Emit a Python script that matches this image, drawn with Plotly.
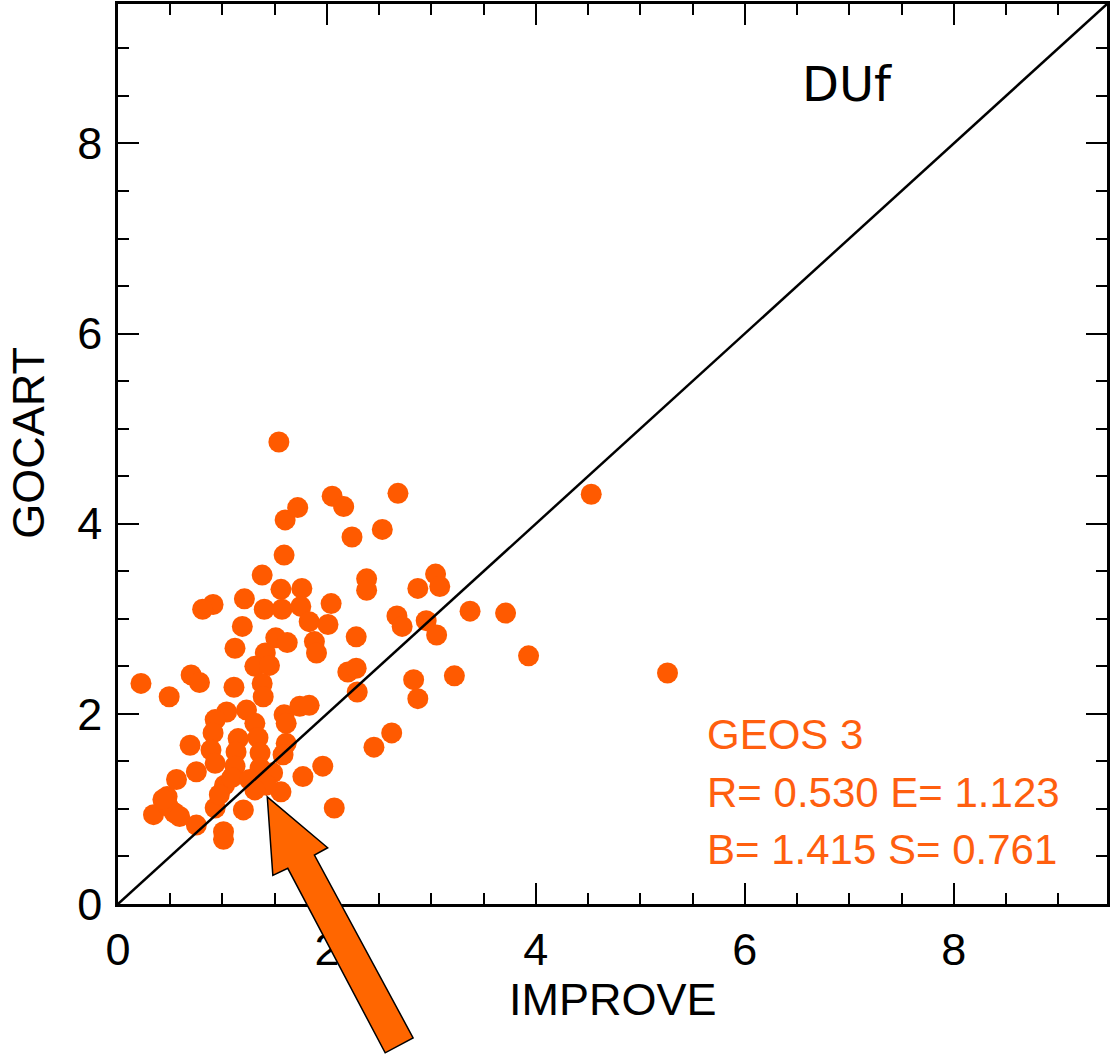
import plotly.graph_objects as go

# ---- data (IMPROVE vs GOCART, DUf) ----
improve = [1.54, 1.60, 1.72, 2.05, 2.16, 2.68, 2.24, 2.53, 1.59, 1.38,
           2.38, 2.38, 1.56, 1.76, 1.21, 0.91, 0.81, 1.40, 1.57, 1.75,
           1.83, 2.01, 2.04, 1.88, 1.90, 1.51, 1.62, 1.19, 1.12, 1.41,
           1.31, 1.45, 2.28, 2.87, 3.04, 3.08, 2.67, 2.72, 2.95, 3.05,
           3.37, 3.71, 4.53, 3.93, 5.26, 3.22, 2.83, 2.87, 2.62, 2.45,
           2.07, 1.96, 0.22, 0.49, 0.70, 0.78, 1.11, 1.38, 1.39, 2.20,
           2.28, 2.29, 1.77, 1.56, 1.20, 1.01, 1.01, 0.93, 0.75, 0.34,
           0.47, 0.54, 0.56, 0.48, 0.59, 0.69, 0.75, 1.02, 1.04, 0.93,
           0.91, 0.89, 0.93, 1.23, 1.31, 1.34, 1.36, 1.36, 1.15, 1.13,
           1.12, 1.09, 0.97, 1.59, 1.74, 1.83, 1.61, 1.58, 1.48, 1.42,
           1.31, 1.61, 1.26, 0.43]
gocart = [4.86, 4.04, 4.17, 4.29, 4.18, 4.32, 3.86, 3.94, 3.67, 3.46,
          3.42, 3.30, 3.31, 3.32, 3.21, 3.15, 3.10, 3.10, 3.10, 3.13,
          2.97, 2.94, 3.16, 2.76, 2.64, 2.80, 2.75, 2.92, 2.69, 2.64,
          2.50, 2.51, 2.81, 3.32, 3.47, 3.34, 3.03, 2.92, 2.98, 2.83,
          3.08, 3.06, 4.31, 2.61, 2.43, 2.40, 2.36, 2.16, 1.80, 1.65,
          1.01, 1.45, 2.32, 2.18, 2.41, 2.33, 2.28, 2.32, 2.18, 2.44,
          2.48, 2.23, 1.34, 1.18, 0.99, 0.76, 0.68, 1.01, 0.83, 0.94,
          1.13, 0.96, 1.31, 1.03, 0.92, 1.67, 1.39, 1.25, 2.02, 1.94,
          1.80, 1.62, 1.48, 2.04, 1.90, 1.75, 1.59, 1.43, 1.74, 1.60,
          1.45, 1.33, 1.15, 1.99, 2.08, 2.09, 1.69, 1.57, 1.38, 1.25,
          1.20, 1.90, 1.31, 1.10]

axis_max = 9.467
one_to_one = [0, axis_max]
tick_vals = [0, 2, 4, 6, 8]
tick_text = ["0", "2", "4", "6", "8"]

panel_label = "DUf"
stats_lines = ["GEOS 3", "R= 0.530 E= 1.123", "B= 1.415 S= 0.761"]
x_title = "IMPROVE"
y_title = "GOCART"

DOT = "#FF5A00"
TXT = "#FF5F0F"
ARROW = "#FF6600"

W, H = 1111, 1062
ML, MR, MT, MB = 118, 1, 3, 158
PW, PH = W - ML - MR, H - MT - MB

# decorative arrow outline (pixel positions on the page)
arrow_px = [(267.7, 796.7), (328.3, 847.7), (315.0, 855.0), (414.0, 1038.0),
            (386.0, 1053.0), (288.3, 868.3), (273.3, 875.3)]


def to_paper(px, py):
    return (px - ML) / PW, (H - MB - py) / PH


path = ""
for i, (px, py) in enumerate(arrow_px):
    xp, yp = to_paper(px, py)
    path += ("M" if i == 0 else "L") + f"{xp:.5f},{yp:.5f} "
path += "Z"

fig = go.Figure()
fig.add_trace(go.Scatter(x=improve, y=gocart, mode="markers",
                         marker=dict(size=21, color=DOT, line=dict(width=0)),
                         hoverinfo="x+y", showlegend=False))
fig.add_trace(go.Scatter(x=one_to_one, y=one_to_one, mode="lines",
                         line=dict(color="black", width=2.5),
                         hoverinfo="skip", showlegend=False))

axis_common = dict(
    range=[0, axis_max], showgrid=False, zeroline=False,
    showline=True, linecolor="black", linewidth=2.5, mirror="ticks",
    ticks="inside", ticklen=21, tickwidth=2, tickcolor="black",
    tickvals=tick_vals, ticktext=tick_text,
    tickfont=dict(family="Liberation Sans, Arial, sans-serif", size=45, color="black"),
    minor=dict(dtick=0.5, ticks="inside", ticklen=11, tickwidth=2, tickcolor="black"),
)
fig.update_xaxes(**axis_common, ticklabelstandoff=4)
fig.update_yaxes(**axis_common, ticklabelstandoff=4)

annotations = [
    dict(x=6.98, y=8.63, xref="x", yref="y", text=panel_label, showarrow=False,
         font=dict(family="DejaVu Sans, Verdana, sans-serif", size=48, color="black"),
         xanchor="center", yanchor="middle"),
    dict(x=0.5, y=to_paper(0, 1000)[1], xref="paper", yref="paper", text=x_title,
         showarrow=False, xanchor="center", yanchor="middle",
         font=dict(family="Liberation Sans, Arial, sans-serif", size=45, color="black")),
    dict(x=to_paper(28, 0)[0], y=to_paper(0, 442)[1], xref="paper", yref="paper",
         text=y_title, showarrow=False, textangle=-90, xanchor="center", yanchor="middle",
         font=dict(family="Liberation Sans, Arial, sans-serif", size=45, color="black")),
]
for yv, line in zip([1.78, 1.17, 0.57], stats_lines):
    annotations.append(dict(x=5.62, y=yv, xref="x", yref="y", text=line, showarrow=False,
                            xanchor="left", yanchor="middle",
                            font=dict(family="Liberation Sans, Arial, sans-serif",
                                      size=42, color=TXT)))

fig.update_layout(
    width=W, height=H, margin=dict(l=ML, r=MR, t=MT, b=MB, pad=0),
    paper_bgcolor="white", plot_bgcolor="white",
    annotations=annotations,
    shapes=[dict(type="path", xref="paper", yref="paper", path=path,
                 fillcolor=ARROW, line=dict(color="black", width=1.5), layer="above")],
)

fig.write_html("out.html", config={"displayModeBar": False},
               post_script="document.body.style.margin='0';document.body.style.overflow='hidden';")
